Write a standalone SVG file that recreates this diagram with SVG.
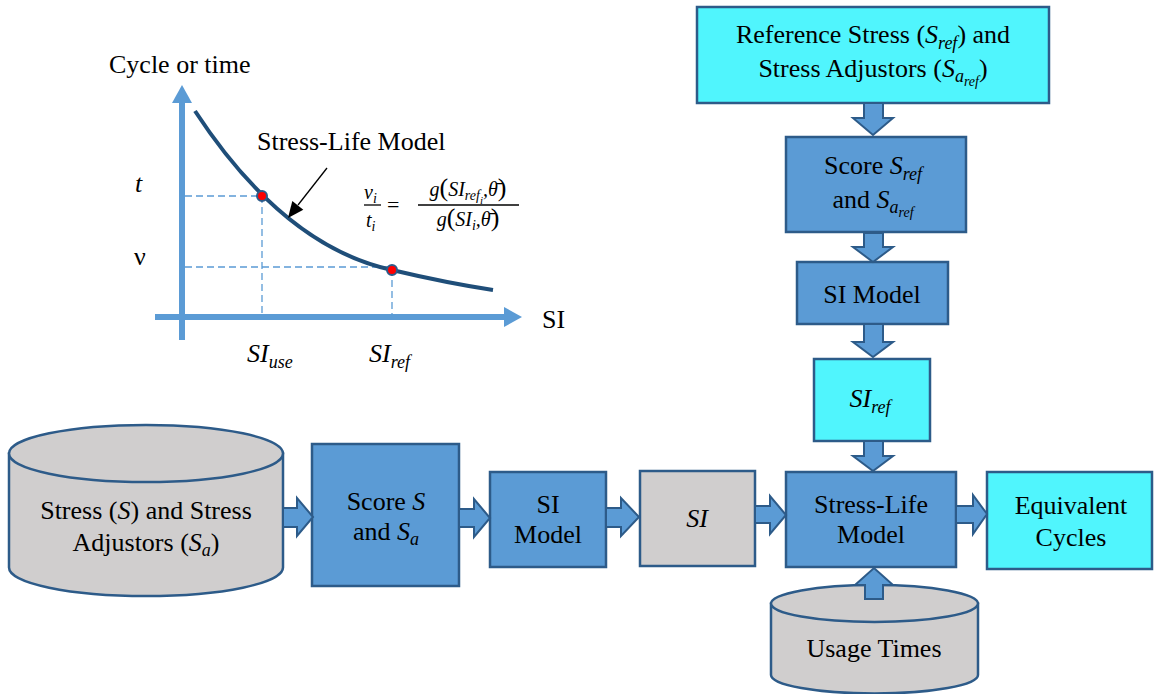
<svg xmlns="http://www.w3.org/2000/svg" width="1154" height="694" viewBox="0 0 1154 694" font-family="'Liberation Serif', 'DejaVu Serif', serif">
  <style>
    text { font-family: "Liberation Serif", "DejaVu Serif", serif; fill: #000; }
    .lbl { font-size: 26px; }
    .mid { text-anchor: middle; }
    .it { font-style: italic; }
    .sub { font-size: 18px; font-style: italic; }
    .ssub { font-size: 14px; font-style: italic; }
    .box { stroke: #2d5b89; stroke-width: 2.5; }
    .blue { fill: #5b9bd5; }
    .cyan { fill: #50f5fd; }
    .gray { fill: #d0cece; }
    .barrow { fill: #5b9bd5; stroke: #2d5b89; stroke-width: 2; stroke-linejoin: miter; }
    .axis { stroke: #5b9bd5; stroke-width: 6; fill: none; }
    .dash { stroke: #5b9bd5; stroke-width: 1.3; stroke-dasharray: 7 4; fill: none; }
    .form { font-size: 20px; font-style: italic; }
    .par { font-size: 26px; font-style: normal; }
  </style>

  <rect width="1154" height="694" fill="#fff"/>

  <!-- Stress-life chart -->
  <g id="chart">
    <line class="axis" x1="182" y1="340" x2="182" y2="101"/>
    <polygon points="182,85 172,103 192,103" fill="#5b9bd5"/>
    <line class="axis" x1="155" y1="317" x2="506" y2="317"/>
    <polygon points="522,317 504,307 504,327" fill="#5b9bd5"/>
    <path class="dash" d="M185,196 H262 V317"/>
    <path class="dash" d="M185,267 H392 V317"/>
    <path d="M195,111 C235,172 300,250 392,270 C430,279 460,285 493,290" fill="none" stroke="#1f4e79" stroke-width="4"/>
    <circle cx="262" cy="196" r="5" fill="#ff0000" stroke="#2d5b89" stroke-width="2"/>
    <circle cx="392" cy="270" r="5" fill="#ff0000" stroke="#2d5b89" stroke-width="2"/>
    <line x1="327" y1="168" x2="298" y2="205" stroke="#000" stroke-width="1.3"/>
    <polygon points="288,218 292.3,201.1 303.3,209.7" fill="#000"/>
    <text class="lbl" x="109" y="73">Cycle or time</text>
    <text class="lbl" x="257" y="150">Stress-Life Model</text>
    <text class="lbl" x="542" y="328">SI</text>
    <text class="lbl it" x="135" y="192">t</text>
    <text class="lbl" x="134" y="265">ν</text>
    <text class="lbl it" x="247" y="362">SI<tspan class="sub" dy="6">use</tspan></text>
    <text class="lbl it" x="369" y="362">SI<tspan class="sub" dy="6">ref</tspan></text>
    <!-- ratio of lives -->
    <text class="form" x="364" y="199">ν<tspan font-size="14" dy="4">i</tspan></text>
    <line x1="364" y1="205" x2="381" y2="205" stroke="#000" stroke-width="1.3"/>
    <text class="form" x="366" y="227">t<tspan font-size="14" dy="4">i</tspan></text>
    <text x="387" y="212" font-size="22">=</text>
    <text class="form mid" x="468" y="196">g<tspan class="par">(</tspan>SI<tspan font-size="14" dy="4">ref</tspan><tspan font-size="11" dy="4">i</tspan><tspan dy="-8">,θ̄</tspan><tspan class="par">)</tspan></text>
    <line x1="418" y1="205" x2="519" y2="205" stroke="#000" stroke-width="1.3"/>
    <text class="form mid" x="468" y="226">g<tspan class="par">(</tspan>SI<tspan font-size="14" dy="4">i</tspan><tspan dy="-4">,θ̄</tspan><tspan class="par">)</tspan></text>
  </g>

  <g id="ref-stress">
    <rect class="box cyan" x="697" y="7" width="352" height="96"/>
    <text class="lbl mid" x="873" y="43">Reference Stress (<tspan class="it">S</tspan><tspan class="sub" dy="6">ref</tspan><tspan dy="-6">) and</tspan></text>
    <text class="lbl mid" x="873" y="77">Stress Adjustors (<tspan class="it">S</tspan><tspan class="sub" dy="5">a</tspan><tspan class="ssub" dy="4">ref</tspan><tspan dy="-9">)</tspan></text>
  </g>

  <g id="score-ref">
    <rect class="box blue" x="786" y="137" width="180" height="95"/>
    <text class="lbl mid" x="873" y="174">Score <tspan class="it">S</tspan><tspan class="sub" dy="6">ref</tspan></text>
    <text class="lbl mid" x="873" y="208">and <tspan class="it">S</tspan><tspan class="sub" dy="5">a</tspan><tspan class="ssub" dy="4">ref</tspan></text>
  </g>

  <g id="si-model-ref">
    <rect class="box blue" x="797" y="262" width="151" height="62"/>
    <text class="lbl mid" x="872" y="303">SI Model</text>
  </g>

  <g id="si-ref">
    <rect class="box cyan" x="814" y="359" width="116" height="82"/>
    <text class="lbl mid it" x="870" y="407" font-size="28">SI<tspan class="sub" dy="6">ref</tspan></text>
  </g>

  <g id="stress-data">
    <path class="box gray" d="M9,453.5 V567.5 A137,28.5 0 0 0 283,567.5 V453.5 Z"/>
    <ellipse class="box gray" cx="146" cy="453.5" rx="137" ry="28.5"/>
    <text class="lbl mid" x="146" y="519">Stress (<tspan class="it">S</tspan>) and Stress</text>
    <text class="lbl mid" x="146" y="551">Adjustors (<tspan class="it">S</tspan><tspan class="sub" dy="5">a</tspan><tspan dy="-5">)</tspan></text>
  </g>

  <g id="score">
    <rect class="box blue" x="312" y="444" width="147" height="142"/>
    <text class="lbl mid" x="386" y="510">Score <tspan class="it">S</tspan></text>
    <text class="lbl mid" x="386" y="540">and <tspan class="it">S</tspan><tspan class="sub" dy="5">a</tspan></text>
  </g>

  <g id="si-model">
    <rect class="box blue" x="490" y="472" width="116" height="95"/>
    <text class="lbl mid" x="548" y="513">SI</text>
    <text class="lbl mid" x="548" y="543">Model</text>
  </g>

  <g id="si">
    <rect class="box gray" x="640" y="471" width="115" height="95"/>
    <text class="lbl mid it" x="697" y="527">SI</text>
  </g>

  <g id="stress-life">
    <rect class="box blue" x="786" y="472" width="170" height="95"/>
    <text class="lbl mid" x="871" y="513">Stress-Life</text>
    <text class="lbl mid" x="871" y="543">Model</text>
  </g>

  <g id="equivalent">
    <rect class="box cyan" x="987" y="472" width="165" height="97"/>
    <text class="lbl mid" x="1071" y="514">Equivalent</text>
    <text class="lbl mid" x="1071" y="546">Cycles</text>
  </g>

  <g id="usage">
    <path class="box gray" d="M771,603.5 V675 A103.5,18.5 0 0 0 978,675 V603.5 Z"/>
    <ellipse class="box gray" cx="874.5" cy="603.5" rx="103.5" ry="18.5"/>
    <text class="lbl mid" x="874" y="657">Usage Times</text>
  </g>

  <!-- Block-arrow connectors -->
  <g id="connectors">
    <polygon class="barrow" points="864,103 883,103 883,118 893,118 873,135 853,118 864,118"/>
    <polygon class="barrow" points="864,233 883,233 883,247 893,247 873,262 853,247 864,247"/>
    <polygon class="barrow" points="864,324 883,324 883,342 893,342 873,357 853,342 864,342"/>
    <polygon class="barrow" points="864,441 883,441 883,456 893,456 873,471 853,456 864,456"/>
    <polygon class="barrow" points="865,599 883,599 883,585 893,585 874,568 855,585 865,585"/>
    <polygon class="barrow" points="283,508 297,508 297,498 313,517 297,536 297,527 283,527"/>
    <polygon class="barrow" points="459,509 474,509 474,499 490,518 474,537 474,527 459,527"/>
    <polygon class="barrow" points="606,508 621,508 621,498 639,517 621,536 621,527 606,527"/>
    <polygon class="barrow" points="755,506 770,506 770,496 786,515 770,534 770,523 755,523"/>
    <polygon class="barrow" points="956,506 973,506 973,495 987,514 973,534 973,523 956,523"/>
  </g>
</svg>
